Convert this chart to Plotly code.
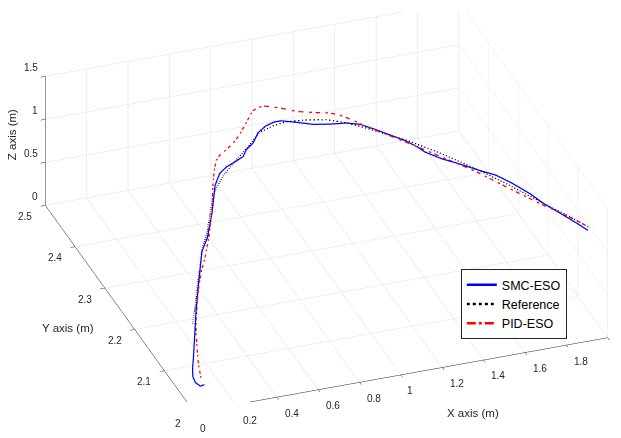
import plotly.graph_objects as go

# ---------------- data ----------------
ref_x = [0.266, 0.308, 0.353, 0.401, 0.431, 0.490, 0.575, 0.607, 0.663, 0.723, 0.808, 0.888,
         0.958, 1.024, 1.116, 1.202, 1.267, 1.314, 1.372, 1.429, 1.486, 1.590, 1.690, 1.784,
         1.874, 1.940, 1.998]
ref_y = [2.190, 2.210, 2.234, 2.258, 2.274, 2.296, 2.337, 2.346, 2.357, 2.366, 2.380, 2.398,
         2.402, 2.402, 2.398, 2.391, 2.379, 2.367, 2.350, 2.332, 2.315, 2.274, 2.229, 2.180,
         2.128, 2.093, 2.058]
ref_z = [0.00, 0.10, 0.20, 0.30, 0.37, 0.47, 0.63, 0.69, 0.77, 0.84, 0.91, 0.95,
         0.98, 1.00, 1.00, 1.00, 1.00, 1.00, 1.00, 1.00, 1.00, 1.00, 1.00, 1.00,
         1.00, 1.00, 1.00]

smc_x = [0.129, 0.107, 0.091, 0.093, 0.109, 0.139, 0.186, 0.255, 0.329, 0.421, 0.470, 0.539,
         0.605, 0.646, 0.685, 0.725, 0.767, 0.793, 0.835, 0.881, 0.929, 0.972, 1.004, 1.065,
         1.131, 1.204, 1.279, 1.332, 1.377, 1.419, 1.472, 1.509, 1.524, 1.575, 1.633, 1.699,
         1.757, 1.804, 1.846, 1.874, 1.916, 1.958, 1.981]
smc_y = [2.055, 2.053, 2.059, 2.069, 2.081, 2.099, 2.128, 2.171, 2.214, 2.266, 2.282, 2.314,
         2.350, 2.363, 2.367, 2.367, 2.368, 2.376, 2.382, 2.397, 2.404, 2.406, 2.406, 2.397,
         2.386, 2.380, 2.376, 2.368, 2.353, 2.337, 2.317, 2.297, 2.284, 2.263, 2.246, 2.224,
         2.207, 2.182, 2.154, 2.128, 2.100, 2.071, 2.053]
smc_z = [0.00, 0.00, 0.02, 0.04, 0.07, 0.10, 0.15, 0.23, 0.31, 0.41, 0.47, 0.58,
         0.69, 0.75, 0.79, 0.83, 0.87, 0.90, 0.93, 0.96, 0.985, 1.00, 1.00, 1.00,
         1.00, 1.00, 1.00, 1.00, 1.00, 1.00, 1.00, 1.00, 1.00, 1.00, 1.00, 1.00,
         1.00, 1.00, 1.00, 1.00, 1.00, 1.00, 1.00]

pid_x = [0.135, 0.152, 0.185, 0.215, 0.243, 0.284, 0.322, 0.363, 0.402, 0.472, 0.536, 0.577,
         0.608, 0.636, 0.662, 0.696, 0.738, 0.781, 0.830, 0.878, 0.905, 0.929, 0.962, 1.012,
         1.051, 1.126, 1.203, 1.247, 1.298, 1.330, 1.388, 1.443, 1.497, 1.580, 1.682, 1.774,
         1.868, 1.938, 1.998]
pid_y = [2.071, 2.091, 2.119, 2.143, 2.162, 2.187, 2.208, 2.228, 2.244, 2.277, 2.312, 2.338,
         2.355, 2.367, 2.372, 2.376, 2.382, 2.390, 2.402, 2.414, 2.414, 2.411, 2.404, 2.394,
         2.387, 2.382, 2.380, 2.377, 2.366, 2.355, 2.338, 2.319, 2.300, 2.267, 2.223, 2.173,
         2.124, 2.092, 2.058]
pid_z = [0.00, 0.05, 0.10, 0.15, 0.20, 0.26, 0.32, 0.38, 0.43, 0.53, 0.65, 0.76,
         0.84, 0.89, 0.92, 0.94, 0.97, 1.01, 1.07, 1.13, 1.16, 1.18, 1.19, 1.19,
         1.18, 1.16, 1.13, 1.10, 1.07, 1.05, 1.03, 1.02, 1.01, 1.00, 1.00, 1.00,
         1.00, 1.00, 1.00]

x_ticks = [0, 0.2, 0.4, 0.6, 0.8, 1.0, 1.2, 1.4, 1.6, 1.8, 2.0]
x_tick_text = ["0", "0.2", "0.4", "0.6", "0.8", "1", "1.2", "1.4", "1.6", "1.8", "2"]
y_ticks = [2.0, 2.1, 2.2, 2.3, 2.4, 2.5]
y_tick_text = ["2", "2.1", "2.2", "2.3", "2.4", "2.5"]
z_ticks = [0, 0.5, 1.0, 1.5]
z_tick_text = ["0", "0.5", "1", "1.5"]
axis_titles = ["X axis (m)", "Y axis (m)", "Z axis (m)"]

FONT = "Liberation Sans, Arial, sans-serif"
AX = "#262626"
GRID = "#dedede"
EPS = 1e-4  # keeps labels at the range ends inside the scene

fig = go.Figure()
fig.add_trace(go.Scatter3d(x=smc_x, y=smc_y, z=smc_z, mode="lines", name="SMC-ESO",
                           line=dict(color="#0000ff", width=2.5)))
fig.add_trace(go.Scatter3d(x=ref_x, y=ref_y, z=ref_z, mode="lines", name="Reference",
                           line=dict(color="#000000", width=2.5, dash="dot")))
fig.add_trace(go.Scatter3d(x=pid_x, y=pid_y, z=pid_z, mode="lines", name="PID-ESO",
                           line=dict(color="#ff0000", width=2.5, dash="dashdot")))

def axis(rng, tv):
    return dict(title=dict(text=""), range=rng, tickvals=tv, autorange=False,
                showticklabels=False,
                showbackground=False, gridcolor=GRID, gridwidth=1,
                showline=True, linecolor=AX, linewidth=1,
                zeroline=False, ticks="outside", ticklen=5, tickcolor=AX,
                showspikes=False)

# tick labels and titles as MATLAB-like horizontal text anchored in data space
ann = []
tf = dict(family=FONT, size=10, color=AX)
for v, t in zip(x_ticks, x_tick_text):
    ann.append(dict(x=min(v, 2.0 - EPS), y=2.0 + EPS, z=EPS, text=t, showarrow=False, font=tf,
                    xanchor="center", yanchor="middle",
                    xshift=6 + 2.9 * len(t), yshift=-16))
for v, t in zip(y_ticks, y_tick_text):
    ann.append(dict(x=EPS, y=min(v, 2.5 - EPS), z=EPS, text=t, showarrow=False, font=tf,
                    xanchor="right", yanchor="middle", xshift=-11, yshift=-11))
for v, t in zip(z_ticks, z_tick_text):
    ann.append(dict(x=EPS, y=2.5 - EPS, z=min(v, 1.5 - EPS), text=t, showarrow=False, font=tf,
                    xanchor="right", yanchor="middle", xshift=-5, yshift=9))
hf = dict(family=FONT, size=11.5, color=AX)
ann.append(dict(x=1.35, y=2.0 + EPS, z=EPS, text=axis_titles[0], showarrow=False, font=hf,
                xanchor="center", yanchor="middle", xshift=0, yshift=-51))
ann.append(dict(x=EPS, y=2.25, z=EPS, text=axis_titles[1], showarrow=False, font=hf,
                xanchor="center", yanchor="middle", xshift=-52, yshift=-19.5))
ann.append(dict(x=EPS, y=2.5 - EPS, z=0.75, text=axis_titles[2], showarrow=False, font=hf,
                textangle=-90, xanchor="center", yanchor="middle", xshift=-33, yshift=6))

S = 2.254
r = 1.5
ex, ey, ez = -0.2933, -0.8148, 0.5
fig.update_layout(
    width=621, height=438,
    margin=dict(l=16, r=0, t=4, b=44),
    paper_bgcolor="white",
    font=dict(family=FONT, color=AX),
    scene=dict(
        xaxis=axis([0, 2], x_ticks),
        yaxis=axis([2, 2.5], y_ticks),
        zaxis=axis([0, 1.5], z_ticks),
        aspectmode="manual",
        aspectratio=dict(x=S, y=S, z=0.339 * S),
        camera=dict(eye=dict(x=ex * r, y=ey * r, z=ez * r),
                    up=dict(x=0, y=0, z=1),
                    center=dict(x=0, y=0, z=0),
                    projection=dict(type="orthographic")),
        annotations=ann,
    ),
    legend=dict(x=0.722, y=0.341, xanchor="left", yanchor="top",
                bgcolor="white", bordercolor=AX, borderwidth=1,
                font=dict(family=FONT, size=12.5, color="#000000")),
    showlegend=True,
)

fig.write_html("out.html")
